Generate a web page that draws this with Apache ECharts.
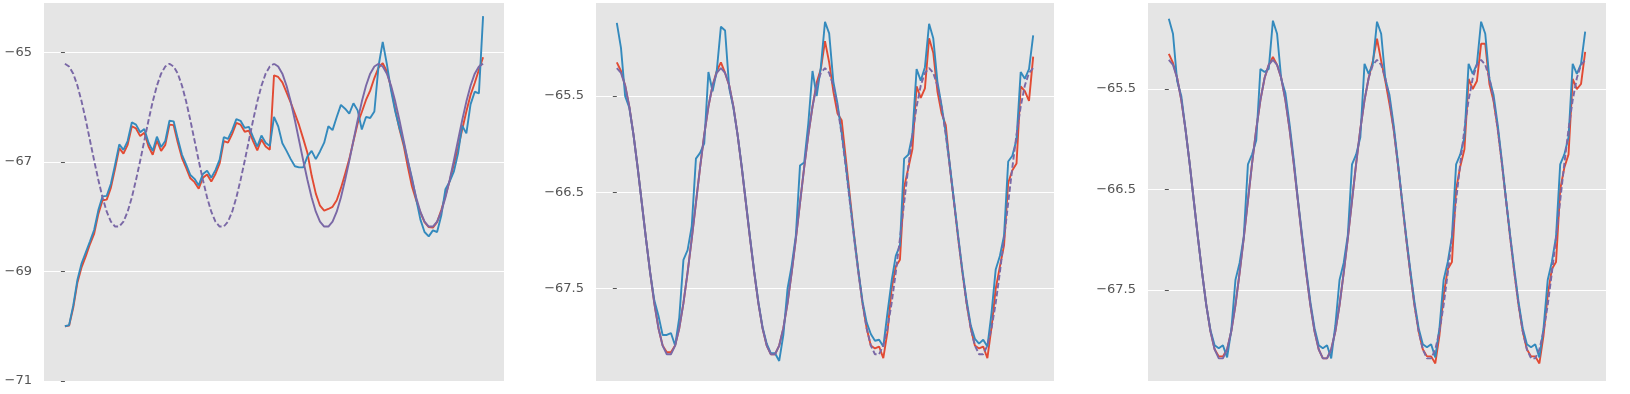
<!DOCTYPE html>
<html>
<head>
<meta charset="utf-8">
<script src="https://cdn.jsdelivr.net/npm/echarts@6/dist/echarts.min.js"></script>
<style>
html,body{margin:0;padding:0;background:#ffffff;}
#chart{width:1630px;height:394px;}
</style>
</head>
<body>
<div id="chart"></div>
<script>
// sample index (x) of every stored value: 0, 2, 4, ... 200
const sampleSteps = Array.from({length: 101}, (_, i) => i * 2);

// reference signal (purple)
const truth = [
  -65.21,-65.26,-65.39,-65.61,-65.90,-66.24,-66.61,-66.98,-67.33,-67.65,
  -67.91,-68.09,-68.18,-68.18,-68.09,-67.91,-67.65,-67.33,-66.98,-66.61,
  -66.24,-65.90,-65.61,-65.39,-65.26,
  -65.21,-65.26,-65.39,-65.61,-65.90,-66.24,-66.61,-66.98,-67.33,-67.65,
  -67.91,-68.09,-68.18,-68.18,-68.09,-67.91,-67.65,-67.33,-66.98,-66.61,
  -66.24,-65.90,-65.61,-65.39,-65.26,
  -65.21,-65.26,-65.39,-65.61,-65.90,-66.24,-66.61,-66.98,-67.33,-67.65,
  -67.91,-68.09,-68.18,-68.18,-68.09,-67.91,-67.65,-67.33,-66.98,-66.61,
  -66.24,-65.90,-65.61,-65.39,-65.26,
  -65.21,-65.26,-65.39,-65.61,-65.90,-66.24,-66.61,-66.98,-67.33,-67.65,
  -67.91,-68.09,-68.18,-68.18,-68.09,-67.91,-67.65,-67.33,-66.98,-66.61,
  -66.24,-65.90,-65.61,-65.39,-65.26,
  -65.21
];

// panel 1
const p1Red = [
  -70.00,-69.99,-69.66,-69.20,-68.92,-68.72,-68.50,-68.31,-67.95,-67.70,
  -67.69,-67.47,-67.12,-66.75,-66.85,-66.69,-66.35,-66.39,-66.53,-66.47,
  -66.72,-66.87,-66.61,-66.80,-66.69,-66.32,-66.33,-66.65,-66.93,-67.11,
  -67.30,-67.37,-67.49,-67.29,-67.23,-67.36,-67.22,-67.03,-66.62,-66.65,
  -66.49,-66.29,-66.32,-66.45,-66.43,-66.62,-66.79,-66.59,-66.72,-66.78,
  -65.42,-65.45,-65.55,-65.73,-65.92,-66.12,-66.33,-66.58,-66.84,-67.25,
  -67.58,-67.80,-67.89,-67.86,-67.82,-67.70,-67.48,-67.22,-66.95,-66.62,
  -66.30,-66.09,-65.87,-65.70,-65.47,-65.28,-65.20,-65.35,-65.65,-66.05,
  -66.40,-66.70,-67.09,-67.45,-67.70,-67.92,-68.10,-68.19,-68.20,-68.10,
  -67.88,-67.62,-67.35,-67.05,-66.75,-66.41,-66.08,-65.78,-65.56,-65.32,
  -65.09
];
const p1Blue = [
  -70.00,-69.98,-69.62,-69.15,-68.85,-68.65,-68.45,-68.24,-67.88,-67.63,
  -67.62,-67.40,-67.05,-66.68,-66.78,-66.62,-66.28,-66.32,-66.46,-66.40,
  -66.65,-66.80,-66.54,-66.73,-66.62,-66.25,-66.26,-66.58,-66.87,-67.05,
  -67.24,-67.31,-67.43,-67.22,-67.16,-67.29,-67.15,-66.96,-66.55,-66.58,
  -66.42,-66.22,-66.25,-66.38,-66.36,-66.55,-66.72,-66.52,-66.65,-66.71,
  -66.18,-66.35,-66.66,-66.80,-66.95,-67.08,-67.10,-67.10,-66.90,-66.80,
  -66.95,-66.81,-66.65,-66.35,-66.42,-66.18,-65.96,-66.03,-66.12,-65.93,
  -66.06,-66.41,-66.18,-66.20,-66.08,-65.25,-64.81,-65.22,-65.70,-66.08,
  -66.38,-66.65,-66.98,-67.30,-67.68,-68.05,-68.28,-68.36,-68.25,-68.28,
  -67.98,-67.50,-67.36,-67.18,-66.85,-66.34,-66.48,-65.95,-65.72,-65.75,
  -64.34
];

// panel 2
const p2Red = [
  -65.15,-65.24,-65.39,-65.61,-65.90,-66.24,-66.61,-66.98,-67.33,-67.65,
  -67.91,-68.09,-68.16,-68.16,-68.09,-67.91,-67.65,-67.33,-66.98,-66.61,
  -66.24,-65.90,-65.61,-65.39,-65.24,-65.15,-65.26,-65.39,-65.61,-65.90,
  -66.24,-66.61,-66.98,-67.33,-67.65,-67.91,-68.09,-68.18,-68.18,-68.09,
  -67.91,-67.65,-67.33,-66.98,-66.61,-66.24,-65.90,-65.61,-65.36,-65.22,
  -64.93,-65.15,-65.45,-65.68,-65.75,-66.15,-66.55,-66.95,-67.31,-67.65,
  -67.91,-68.09,-68.12,-68.10,-68.22,-67.95,-67.50,-67.27,-67.20,-66.45,
  -66.25,-66.05,-65.40,-65.52,-65.42,-64.90,-65.05,-65.45,-65.68,-65.80,
  -66.24,-66.61,-66.98,-67.33,-67.65,-67.91,-68.09,-68.12,-68.10,-68.22,
  -67.90,-67.50,-67.27,-67.05,-66.40,-66.27,-66.20,-65.40,-65.45,-65.55,
  -65.09
];
const p2Blue = [
  -64.74,-65.00,-65.50,-65.62,-65.90,-66.24,-66.61,-66.98,-67.33,-67.62,
  -67.78,-67.98,-67.98,-67.96,-68.09,-67.80,-67.20,-67.10,-66.85,-66.15,
  -66.09,-65.99,-65.25,-65.45,-65.24,-64.78,-64.82,-65.42,-65.62,-65.90,
  -66.23,-66.60,-66.97,-67.32,-67.64,-67.90,-68.07,-68.17,-68.17,-68.25,
  -67.98,-67.50,-67.26,-66.95,-66.22,-66.19,-65.78,-65.24,-65.50,-65.20,
  -64.73,-64.85,-65.35,-65.58,-65.88,-66.22,-66.59,-66.96,-67.31,-67.63,
  -67.85,-67.97,-68.04,-68.03,-68.10,-67.75,-67.42,-67.16,-67.05,-66.15,
  -66.11,-65.90,-65.22,-65.34,-65.20,-64.75,-64.90,-65.35,-65.60,-65.88,
  -66.22,-66.59,-66.96,-67.31,-67.62,-67.88,-68.02,-68.07,-68.03,-68.10,
  -67.75,-67.30,-67.16,-66.95,-66.18,-66.12,-65.95,-65.25,-65.32,-65.22,
  -64.87
];

// panel 3
const p3Red = [
  -65.15,-65.24,-65.39,-65.61,-65.90,-66.24,-66.61,-66.98,-67.33,-67.65,
  -67.91,-68.09,-68.16,-68.16,-68.09,-67.91,-67.65,-67.33,-66.98,-66.61,
  -66.24,-65.90,-65.61,-65.39,-65.26,-65.18,-65.26,-65.39,-65.61,-65.90,
  -66.24,-66.61,-66.98,-67.33,-67.65,-67.91,-68.09,-68.18,-68.18,-68.09,
  -67.91,-67.65,-67.33,-66.98,-66.61,-66.24,-65.90,-65.61,-65.39,-65.22,
  -65.00,-65.22,-65.42,-65.65,-65.90,-66.24,-66.61,-66.98,-67.33,-67.65,
  -67.91,-68.09,-68.16,-68.16,-68.23,-67.95,-67.55,-67.29,-67.22,-66.50,
  -66.27,-66.10,-65.40,-65.50,-65.42,-65.05,-65.05,-65.45,-65.62,-65.90,
  -66.24,-66.61,-66.98,-67.33,-67.65,-67.91,-68.09,-68.16,-68.16,-68.23,
  -67.95,-67.55,-67.29,-67.22,-66.50,-66.28,-66.15,-65.40,-65.50,-65.45,
  -65.13
];
const p3Blue = [
  -64.80,-64.95,-65.42,-65.57,-65.90,-66.24,-66.61,-66.98,-67.33,-67.65,
  -67.90,-68.05,-68.08,-68.05,-68.17,-67.90,-67.40,-67.23,-66.97,-66.25,
  -66.15,-66.01,-65.30,-65.33,-65.30,-64.82,-64.95,-65.40,-65.54,-65.85,
  -66.20,-66.60,-66.95,-67.30,-67.62,-67.88,-68.05,-68.08,-68.05,-68.18,
  -67.85,-67.40,-67.23,-66.95,-66.25,-66.15,-65.98,-65.25,-65.35,-65.25,
  -64.83,-64.95,-65.40,-65.56,-65.86,-66.22,-66.60,-66.96,-67.30,-67.62,
  -67.88,-68.04,-68.07,-68.04,-68.17,-67.88,-67.40,-67.22,-66.97,-66.25,
  -66.15,-65.98,-65.25,-65.35,-65.25,-64.83,-64.95,-65.40,-65.56,-65.86,
  -66.22,-66.60,-66.96,-67.30,-67.62,-67.88,-68.04,-68.07,-68.04,-68.17,
  -67.88,-67.40,-67.22,-66.97,-66.25,-66.15,-65.98,-65.25,-65.35,-65.25,
  -64.93
];

// tick labels
const p1Ticks = [-71, -69, -67, -65];
const p2Ticks = [-67.5, -66.5, -65.5];
const p3Ticks = [-67.5, -66.5, -65.5];

const RED = '#E24A33', BLUE = '#348ABD', PURPLE = '#7A68A6';

function pairs(vals, from, to) {
  const out = [];
  for (let i = from; i <= to; i++) out.push([sampleSteps[i], vals[i]]);
  return out;
}

function line(gi, data, color, dashed) {
  return {
    type: 'line', xAxisIndex: gi, yAxisIndex: gi, data: data,
    showSymbol: false, symbol: 'none', animation: false, silent: true,
    lineStyle: {color: color, width: 1.9, type: dashed ? [5.5, 2.6] : 'solid'},
    itemStyle: {color: color}
  };
}

function yAxis(gi, min, max, ticks) {
  return {
    type: 'value', gridIndex: gi, min: min, max: max,
    axisLine: {show: false},
    axisTick: {show: true, length: 4, inside: false, customValues: ticks,
               lineStyle: {color: '#555555', width: 1}},
    axisLabel: {show: true, customValues: ticks, color: '#555555',
                fontFamily: 'DejaVu Sans', fontSize: 13, margin: 12,
                formatter: v => String(v).replace('-', '\u2212')},
    splitLine: {show: true, showMinLine: true, showMaxLine: true,
                lineStyle: {color: '#ffffff', width: 1}}
  };
}

function xAxis(gi) {
  return {type: 'value', gridIndex: gi, min: -10, max: 210, show: false};
}

const gridBase = {top: 3, height: 378, show: true, backgroundColor: '#E5E5E5', borderWidth: 0};

const option = {
  animation: false,
  backgroundColor: '#ffffff',
  grid: [
    Object.assign({left: 44, width: 460}, gridBase),
    Object.assign({left: 596, width: 458}, gridBase),
    Object.assign({left: 1148, width: 458}, gridBase)
  ],
  xAxis: [xAxis(0), xAxis(1), xAxis(2)],
  yAxis: [
    yAxis(0, -71, -64.1, p1Ticks),
    yAxis(1, -68.458, -64.534, p2Ticks),
    yAxis(2, -68.405, -64.644, p3Ticks)
  ],
  series: [
    line(0, pairs(p1Red, 0, 100), RED),
    line(0, pairs(p1Blue, 0, 100), BLUE),
    line(0, pairs(truth, 0, 50), PURPLE, true),
    line(0, pairs(truth, 50, 100), PURPLE),

    line(1, pairs(p2Red, 0, 100), RED),
    line(1, pairs(p2Blue, 0, 100), BLUE),
    line(1, pairs(truth, 0, 48), PURPLE),
    line(1, pairs(truth, 48, 100), PURPLE, true),

    line(2, pairs(p3Red, 0, 100), RED),
    line(2, pairs(p3Blue, 0, 100), BLUE),
    line(2, pairs(truth, 0, 48), PURPLE),
    line(2, pairs(truth, 48, 100), PURPLE, true)
  ]
};

const chart = echarts.init(document.getElementById('chart'), null, {renderer: 'canvas'});
chart.setOption(option);
</script>
</body>
</html>
